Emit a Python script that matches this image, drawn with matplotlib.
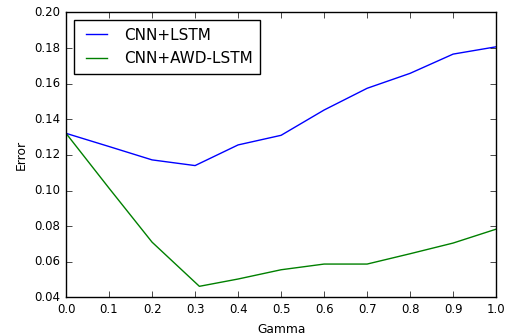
import numpy as np
import matplotlib
matplotlib.use("Agg")
import matplotlib.pyplot as plt

plt.style.use('classic')

gamma = [0.0, 0.1, 0.2, 0.3, 0.4, 0.5, 0.6, 0.7, 0.8, 0.9, 1.0]
gamma_awd = [0.0, 0.1, 0.2, 0.31, 0.4, 0.5, 0.6, 0.7, 0.8, 0.9, 1.0]
err_lstm = [0.1321, 0.1247, 0.1172, 0.1140, 0.1256, 0.1310, 0.1452, 0.1574, 0.1658, 0.1766, 0.1807]
err_awd = [0.1321, 0.1013, 0.0710, 0.0462, 0.0503, 0.0555, 0.0587, 0.0587, 0.0645, 0.0705, 0.0783]

fig = plt.figure(figsize=(5.12, 3.36), dpi=100, facecolor='white')
ax = fig.add_axes([0.129, 0.115, 0.840, 0.848])

ax.plot(gamma, err_lstm, color='b', lw=1.0, label='CNN+LSTM')
ax.plot(gamma_awd, err_awd, color='g', lw=1.0, label='CNN+AWD-LSTM')

ax.set_xlim(0.0, 1.0)
ax.set_ylim(0.04, 0.20)
ax.set_xticks(np.arange(0, 1.01, 0.1))
ax.set_yticks(np.arange(0.04, 0.201, 0.02))
ax.tick_params(labelsize=8.5, length=4)
ax.set_xlabel('Gamma', fontsize=8.8)
ax.set_ylabel('Error', fontsize=8.8)

ax.legend(loc='upper left', fontsize=11, handlelength=2.0, handletextpad=0.8,
          borderpad=0.5, labelspacing=0.57, fancybox=False)

fig.savefig('out.png', dpi=100, facecolor='white')
